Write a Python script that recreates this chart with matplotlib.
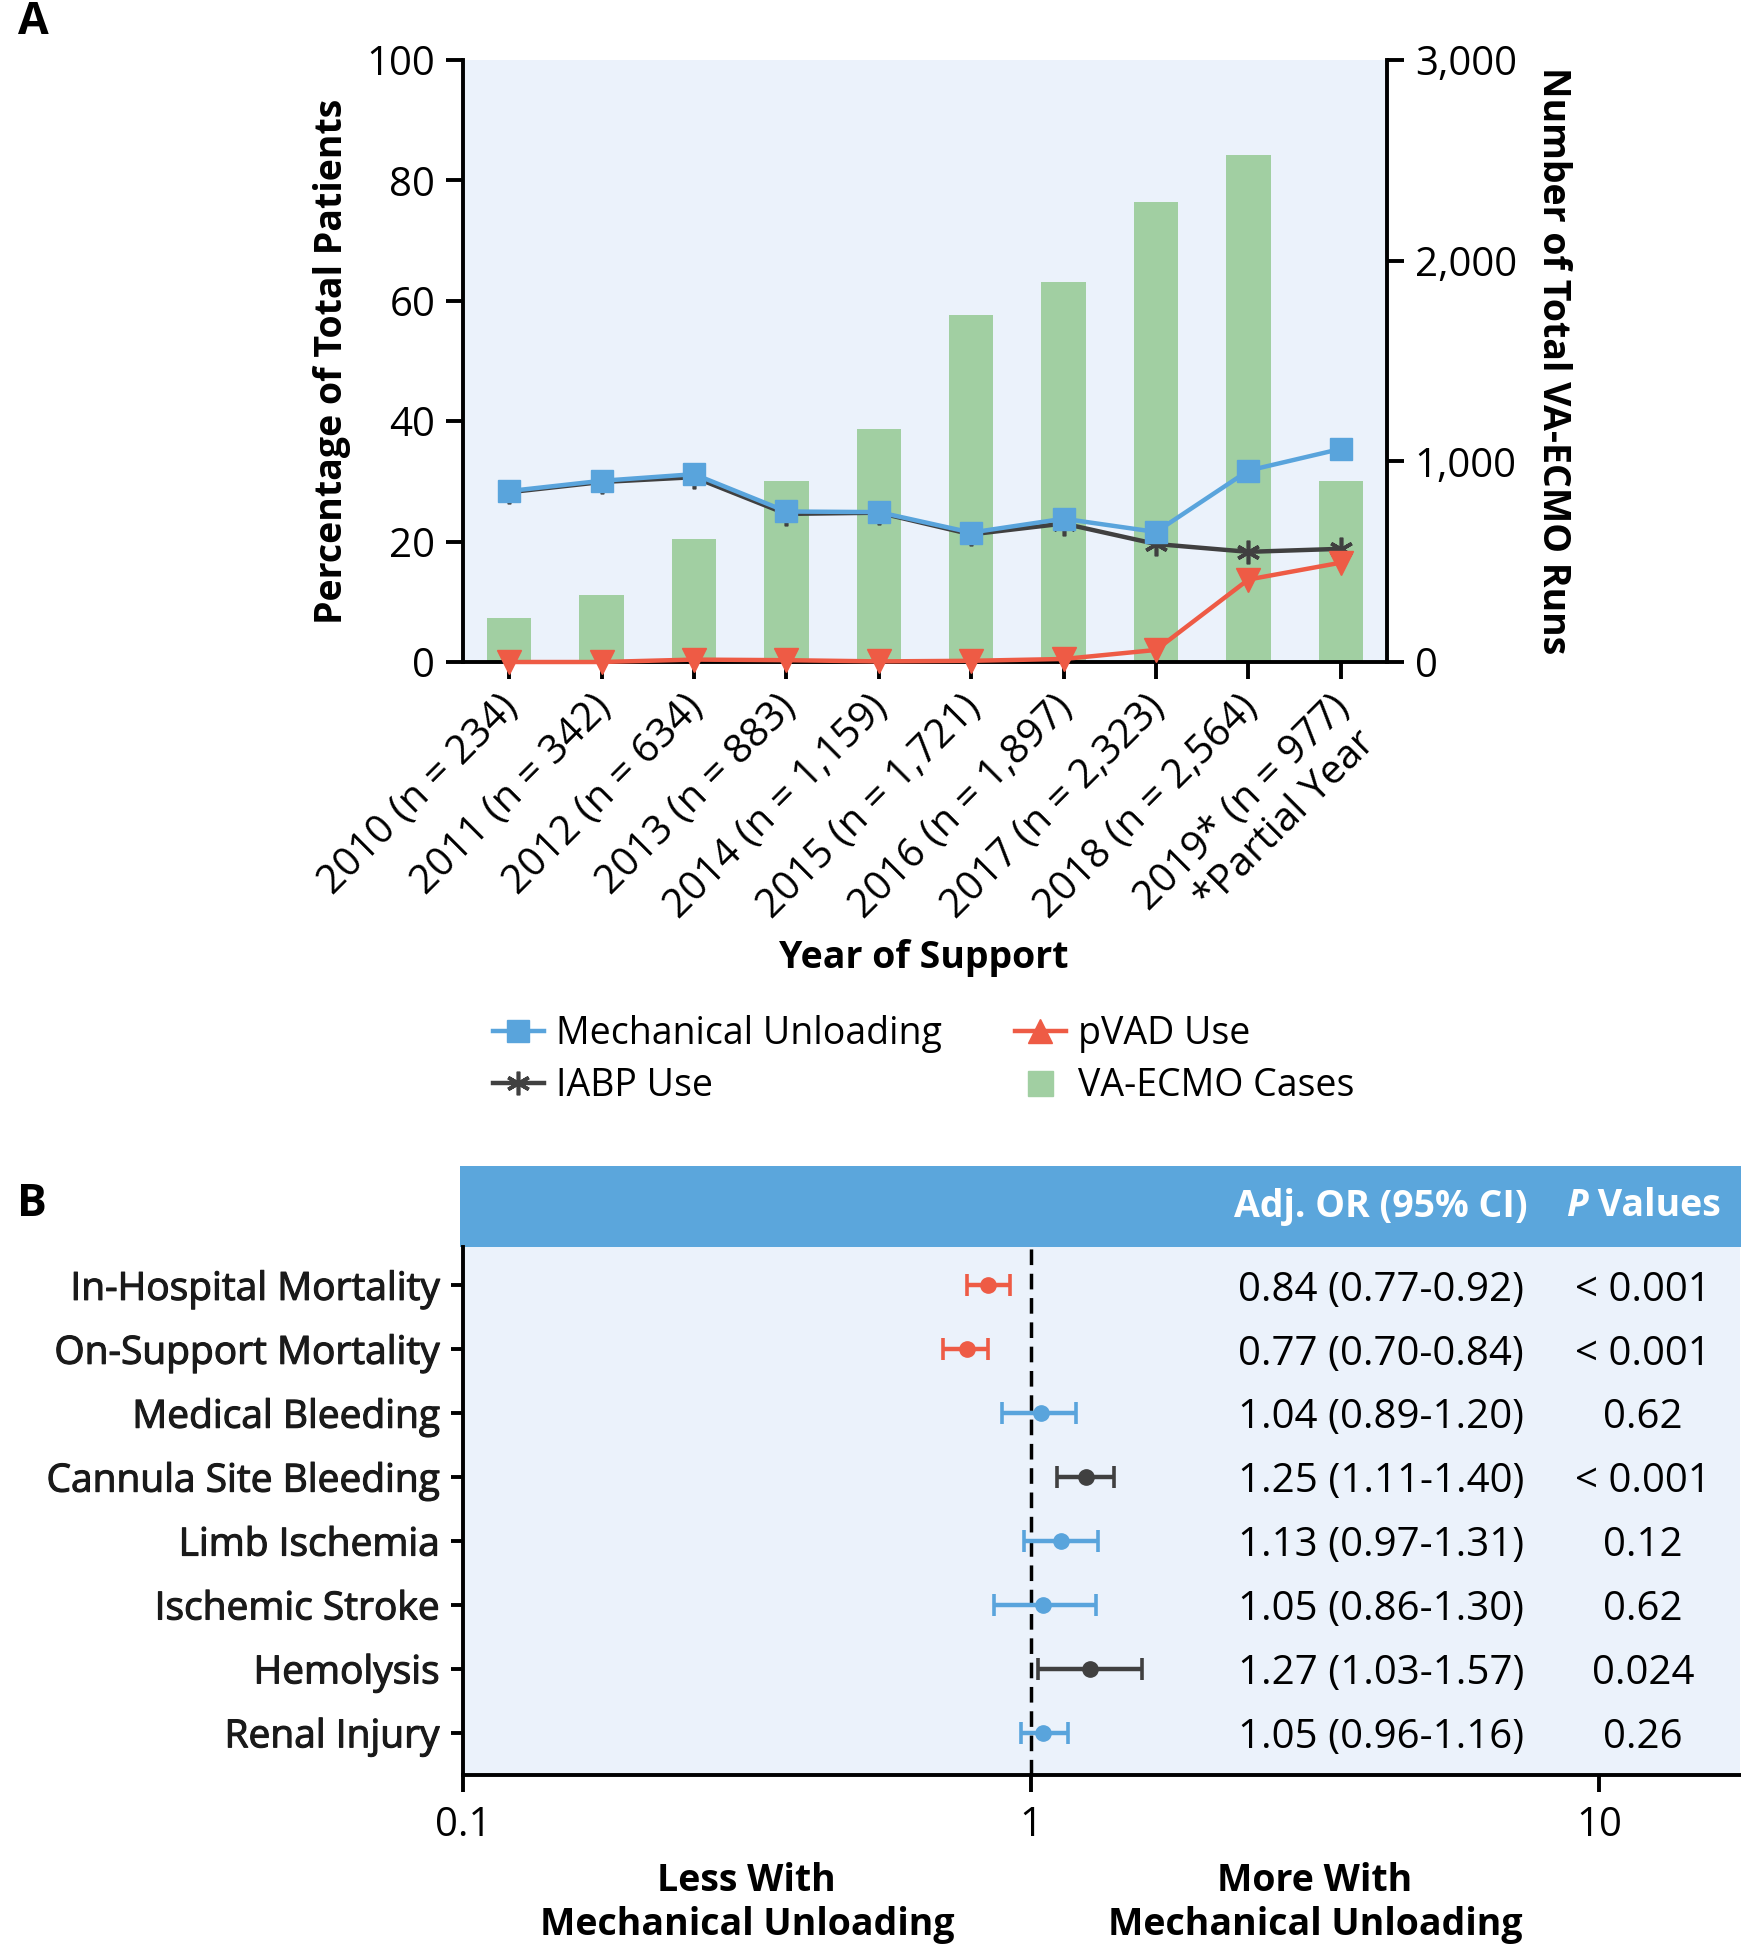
import matplotlib
matplotlib.use('Agg')
import matplotlib.pyplot as plt
from matplotlib.lines import Line2D
import matplotlib.transforms as mtransforms
import matplotlib.patheffects as pe

plt.rcParams['font.family'] = ['Open Sans', 'DejaVu Sans']

# ---------------- Panel A data ----------------
years = ['2010', '2011', '2012', '2013', '2014', '2015', '2016', '2017', '2018', '2019*']
n_labels = ['234', '342', '634', '883', '1,159', '1,721', '1,897', '2,323', '2,564', '977']
partial_note = '*Partial Year'
ecmo_runs = [218, 336, 615, 903, 1160, 1731, 1895, 2294, 2529, 903]
mech_unloading = [28.4, 30.1, 31.2, 25.0, 24.9, 21.5, 23.8, 21.6, 31.8, 35.4]
iabp_use = [28.2, 29.9, 30.7, 24.6, 24.8, 21.2, 23.0, 19.6, 18.3, 18.8]
pvad_use = [0.0, 0.0, 0.4, 0.3, 0.1, 0.2, 0.5, 2.0, 13.7, 16.5]
left_ticks = [0, 20, 40, 60, 80, 100]
right_ticks = [0, 1000, 2000, 3000]
right_ticklabels = ['0', '1,000', '2,000', '3,000']

# ---------------- Panel B data ----------------
outcomes = ['In-Hospital Mortality', 'On-Support Mortality', 'Medical Bleeding',
            'Cannula Site Bleeding', 'Limb Ischemia', 'Ischemic Stroke',
            'Hemolysis', 'Renal Injury']
odds_ratio = [0.84, 0.77, 1.04, 1.25, 1.13, 1.05, 1.27, 1.05]
ci_low = [0.77, 0.70, 0.89, 1.11, 0.97, 0.86, 1.03, 0.96]
ci_high = [0.92, 0.84, 1.20, 1.40, 1.31, 1.30, 1.57, 1.16]
p_values = ['< 0.001', '< 0.001', '0.62', '< 0.001', '0.12', '0.62', '0.024', '0.26']
effect_group = ['less', 'less', 'ns', 'more', 'ns', 'ns', 'more', 'ns']
or_ticks = [0.1, 1, 10]
or_ticklabels = ['0.1', '1', '10']

# ---------------- styles ----------------
BG = '#EBF2FB'
HEADER = '#5BA6DC'
GREEN = '#A1CFA2'
BLUE = '#59A4DC'
RED = '#EE5B45'
DARK = '#404040'
group_color = {'less': RED, 'ns': BLUE, 'more': DARK}
FS = 29
FSB = 27
SPW = 2.8
LW = 3.2

W, H = 1741, 1950
fig = plt.figure(figsize=(W / 100, H / 100), dpi=100)


def fx(px):
    return px / W


def fy(py):
    return 1 - py / H


# ================= Panel A =================
axL, axR, axT, axB_ = 463, 1387, 60, 662
ax_pct = fig.add_axes([fx(axL), fy(axB_), fx(axR - axL), (axB_ - axT) / H])
ax_runs = ax_pct.twinx()
ax_runs.set_zorder(0)
ax_pct.set_zorder(1)
ax_pct.patch.set_visible(False)
ax_runs.patch.set_facecolor(BG)
ax_runs.patch.set_visible(True)

x = list(range(len(years)))
ax_runs.bar(x, ecmo_runs, width=0.48, color=GREEN, zorder=1)
ax_runs.set_ylim(0, 3000)
ax_runs.set_yticks(right_ticks)
ax_runs.set_yticklabels(right_ticklabels)

ax_pct.plot(x, iabp_use, color=DARK, lw=LW, marker=(6, 2, 0), ms=17, mew=2.6,
            clip_on=False, zorder=3)
ax_pct.plot(x, mech_unloading, color=BLUE, lw=LW, marker='s', ms=16,
            clip_on=False, zorder=4)
ax_pct.plot(x, pvad_use, color=RED, lw=LW, marker='v', ms=17,
            clip_on=False, zorder=5)
ax_pct.set_ylim(0, 100)
ax_pct.set_xlim(-0.5, len(years) - 0.5)
ax_pct.set_yticks(left_ticks)
ax_pct.set_xticks(x)
xlabels = [yr + ' (n = ' + n + ')' for yr, n in zip(years, n_labels)]
ax_pct.set_xticklabels(xlabels, rotation=45, ha='right', va='center_baseline',
                       rotation_mode='anchor', fontsize=FS)
# second line under the partial-year label
ax_pct.annotate(partial_note, xy=(len(years) - 1, 0),
                xycoords=('data', 'axes fraction'), xytext=(-42.5, -112),
                textcoords='offset points', rotation=45, rotation_mode='anchor',
                ha='center', va='center_baseline', fontsize=FS, annotation_clip=False)

for ax in (ax_pct, ax_runs):
    ax.spines['top'].set_visible(False)
    for s in ('left', 'right', 'bottom'):
        ax.spines[s].set_linewidth(SPW)
        ax.spines[s].set_color('black')
ax_pct.spines['right'].set_visible(False)
ax_runs.spines['left'].set_visible(False)
ax_runs.spines['bottom'].set_visible(False)
ax_pct.tick_params(axis='both', labelsize=FS, width=SPW, length=12, colors='black')
ax_pct.tick_params(axis='x', pad=14)
ax_pct.tick_params(axis='y', pad=8)
ax_runs.tick_params(axis='y', labelsize=FS, width=SPW, length=12, pad=8)

ax_pct.set_ylabel('Percentage of Total Patients', fontsize=FSB, fontweight='bold', labelpad=11)
ax_runs.set_ylabel('Number of Total VA-ECMO Runs', fontsize=FSB, fontweight='bold',
                   rotation=-90, labelpad=40)
fig.text(fx(924), fy(958), 'Year of Support', fontsize=FSB, fontweight='bold',
         ha='center', va='center')

handles = [
    Line2D([], [], color=BLUE, lw=LW, marker='s', ms=16),
    Line2D([], [], color=DARK, lw=LW, marker=(6, 2, 0), ms=17, mew=2.6),
    Line2D([], [], color=RED, lw=LW, marker='^', ms=17),
    Line2D([], [], color=GREEN, lw=0, marker='s', ms=18),
]
leg_labels = ['Mechanical Unloading', 'IABP Use', 'pVAD Use', 'VA-ECMO Cases']
fig.legend(handles, leg_labels, loc='upper left', bbox_to_anchor=(fx(478), fy(1000)),
           ncol=2, frameon=False, fontsize=27, handlelength=1.35, handletextpad=0.33,
           columnspacing=1.95, labelspacing=0.38, borderaxespad=0)

fig.text(fx(18), fy(22), 'A', fontsize=32, fontweight='bold', ha='left', va='center')

# ================= Panel B =================
hdr = fig.add_axes([fx(460), fy(1247), fx(1741 - 460), (1247 - 1166) / H])
hdr.set_facecolor(HEADER)
hdr.set_xticks([])
hdr.set_yticks([])
for s in hdr.spines.values():
    s.set_visible(False)
hdr.set_xlim(0, 1)
hdr.set_ylim(0, 1)

bL, bR, bT, bB = 463, 1740, 1247, 1775
axf = fig.add_axes([fx(bL), fy(bB), fx(bR - bL), (bB - bT) / H])
axf.set_facecolor(BG)
axf.set_xscale('log')
axf.set_xlim(0.1, 17.7)
axf.set_ylim(len(outcomes) - 0.34, -0.6)
for i in range(len(outcomes)):
    c = group_color[effect_group[i]]
    axf.errorbar(odds_ratio[i], i,
                 xerr=[[odds_ratio[i] - ci_low[i]], [ci_high[i] - odds_ratio[i]]],
                 fmt='o', color=c, ms=11, elinewidth=3.2, capsize=8, capthick=2.6,
                 zorder=3)
axf.axvline(1, color='black', lw=2.5, ls=(0, (4.5, 2.5)), zorder=2)
axf.set_yticks(range(len(outcomes)))
axf.set_yticklabels(outcomes, fontsize=28)
for lab in axf.get_yticklabels():
    lab.set_path_effects([pe.withStroke(linewidth=0.8, foreground='#1a1a1a')])
axf.set_xticks(or_ticks)
axf.set_xticklabels(or_ticklabels, fontsize=FS)
axf.minorticks_off()
axf.tick_params(axis='y', width=SPW, length=9, pad=8, labelcolor='#1a1a1a')
axf.tick_params(axis='x', width=SPW, length=12, pad=10)
axf.spines['top'].set_visible(False)
axf.spines['right'].set_visible(False)
for s in ('left', 'bottom'):
    axf.spines[s].set_linewidth(SPW)
    axf.spines[s].set_color('black')

tb = mtransforms.blended_transform_factory(axf.transAxes, axf.transData)
for i in range(len(outcomes)):
    axf.text(0.719, i, f'{odds_ratio[i]:.2f} ({ci_low[i]:.2f}-{ci_high[i]:.2f})',
             transform=tb, fontsize=FS, ha='center', va='center_baseline')
    axf.text(0.924, i, p_values[i], transform=tb, fontsize=FS, ha='center',
             va='center_baseline')

th = mtransforms.blended_transform_factory(axf.transAxes, hdr.transAxes)
hdr.text(0.719, 0.5, 'Adj. OR (95% CI)', transform=th, fontsize=FSB, fontweight='bold',
         color='white', ha='center', va='center')
ptxt = hdr.text(0.864, 0.5, 'P', transform=th, fontsize=FSB, fontweight='bold',
                style='italic', color='white', ha='left', va='center')
hdr.annotate(' Values', xy=(1, 0), xycoords=ptxt, ha='left', va='bottom',
             fontsize=FSB, fontweight='bold', color='white')

tbx = mtransforms.blended_transform_factory(axf.transData, fig.transFigure)
axf.text(0.316, fy(1903), 'Less With\nMechanical Unloading', transform=tbx,
         fontsize=FSB, fontweight='bold', ha='center', va='center', linespacing=1.2)
axf.text(3.16, fy(1903), 'More With\nMechanical Unloading', transform=tbx,
         fontsize=FSB, fontweight='bold', ha='center', va='center', linespacing=1.2)

fig.text(fx(17), fy(1204), 'B', fontsize=32, fontweight='bold', ha='left', va='center')

fig.savefig('out.png', dpi=100)
